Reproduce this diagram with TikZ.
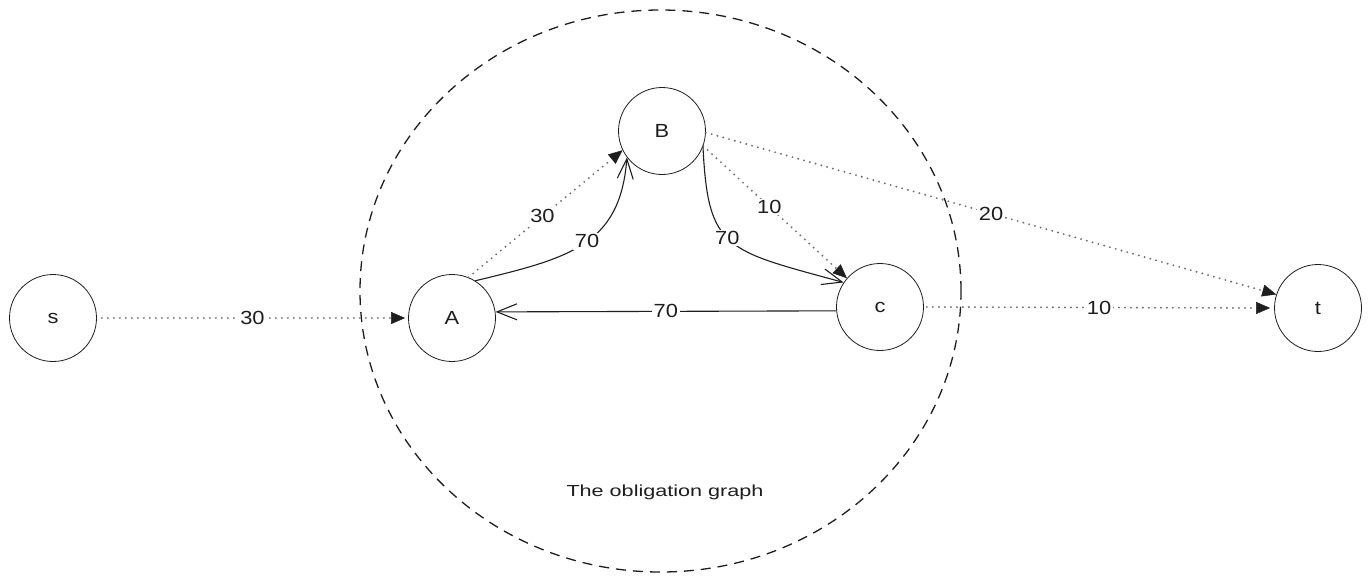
\documentclass[tikz,border=0pt]{standalone}
\usepackage{fontspec}
\setmainfont{Liberation Sans}
\newfontfamily\handfont[FakeStretch=1.15]{Liberation Sans}
\newfontfamily\capfont[FakeStretch=1.35]{Liberation Sans}
\usetikzlibrary{arrows.meta}
\definecolor{ink}{HTML}{1E1E1E}
\definecolor{dotgray}{HTML}{6E6E6E}
\begin{document}
\begin{tikzpicture}[x=1pt,y=-1pt,
  vertex/.style={circle,draw=ink,line width=0.8pt,minimum size=87pt,inner sep=0pt,text=ink,
    font=\handfont\fontsize{19}{19}\selectfont},
  flowline/.style={draw=dotgray,line width=2.1pt,line cap=round,dash pattern=on 0pt off 6pt,
    -{Triangle[length=14pt,width=12pt,color=ink,fill=ink,line width=0.5pt]}},
  obline/.style={draw=ink,line width=1.1pt,-{Straight Barb[length=20pt,width=16pt]}},
  lbl/.style={fill=white,inner sep=1.5pt,text=ink,font=\handfont\fontsize{19}{19}\selectfont},
  groupline/.style={draw=ink,line width=1.3pt,dash pattern=on 10pt off 7pt}
]
\useasboundingbox (0,0) rectangle (1371,582);

% group outline
\draw[groupline] (660.5,291) ellipse [x radius=300.5pt, y radius=281pt];
\node[text=ink,font=\capfont\fontsize{16}{16}\selectfont] (caption) at (665,492) {The obligation graph};

% vertices
\node[vertex] (s) at (53,318) {s};
\node[vertex] (A) at (452,318) {A};
\node[vertex] (B) at (662,131) {B};
\node[vertex] (C) at (880,307) {c};
\node[vertex] (t) at (1318,308) {t};

% flows (dotted)
\draw[flowline,shorten <=5pt,shorten >=3pt] (s.east) -- node[lbl,pos=0.5] {30} (A.west);
\draw[flowline] (A.68) -- node[lbl,pos=0.48] {30} (B.206);
\draw[flowline] (B.-20) -- node[lbl,pos=0.46] {10} (C.139);
\draw[flowline] (B.-2) -- node[lbl,pos=0.5] {20} (t.162);
\draw[flowline,shorten <=3pt,shorten >=4pt] (C.east) -- node[lbl,pos=0.5] {10} (t.west);

% obligations (solid)
\draw[obline] (A.58) .. controls (570,258) and (620,245) .. node[lbl,pos=0.52] {70} (B.217);
\draw[obline] (B.-21) .. controls (708,250) and (725,250) .. node[lbl,pos=0.47] {70} (C.146);
\draw[obline] (C.185) -- node[lbl,pos=0.5] {70} (A.8);
\end{tikzpicture}
\end{document}
